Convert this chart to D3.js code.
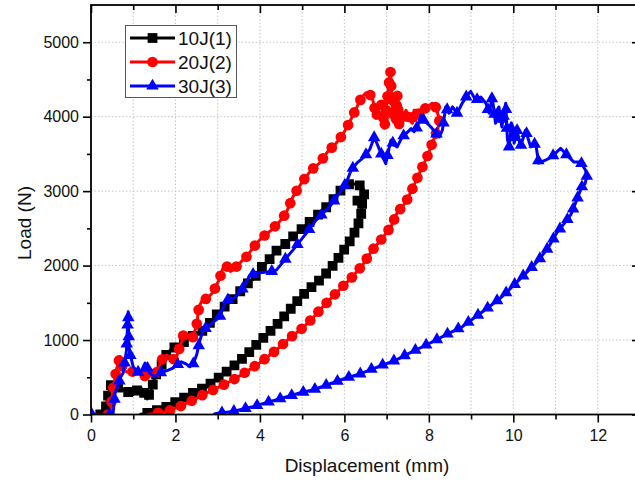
<!DOCTYPE html>
<html>
<head>
<meta charset="utf-8">
<script src="https://cdnjs.cloudflare.com/ajax/libs/d3/7.8.5/d3.min.js"></script>
<style>
    body { margin: 0; background: #fff; }
    svg { display: block; font-family: Arial, "Liberation Sans", sans-serif; }
</style>
</head>
<body>
<svg id="chart" width="635" height="482"></svg>
<script>
    'use strict';

    var xTicks = [0, 2, 4, 6, 8, 10, 12];
    var xMinorTicks = [1, 3, 5, 7, 9, 11];
    var yTicks = [0, 1000, 2000, 3000, 4000, 5000];
    var yMinorTicks = [500, 1500, 2500, 3500, 4500];
    var seriesNames = ['10J(1)', '20J(2)', '30J(3)'];

    // displacement (mm), load (N) - loading branch then unloading branch
    var load10Up = [[0.22,0],[0.33,30],[0.42,300],[0.49,430],[0.58,380],[0.71,340],[0.85,310],[1.0,270],[1.1,330],
        [1.18,360],[1.25,300],[1.33,210],[1.43,330],[1.52,520],[1.65,640],[1.78,800],[1.87,860],[2.0,910],[2.18,960],
        [2.3,1030],[2.46,1070],[2.6,1100],[2.73,1180],[2.85,1250],[3.0,1360],[3.15,1440],[3.28,1510],[3.45,1600],
        [3.6,1700],[3.75,1780],[3.87,1830],[4.0,1960],[4.15,2030],[4.39,2200],[4.6,2290],[4.78,2390],[5.01,2500],
        [5.2,2600],[5.41,2700],[5.6,2800],[5.72,2880],[5.85,2960],[5.96,3050],[6.08,3090],[6.2,3100],[6.32,3090],
        [6.43,3060],[6.47,2980],[6.46,2900],[6.3,2870],[6.42,2830]];
    var load10Down = [[6.42,2830],[6.4,2700],[6.33,2560],[6.22,2420],[6.1,2300],[5.88,2120],[5.65,1940],[5.41,1805],
        [5.12,1660],[4.94,1560],[4.7,1400],[4.39,1200],[3.99,980],[3.68,800],[3.36,640],[3.05,505],[2.73,375],
        [2.42,290],[2.1,195],[1.79,105],[1.5,45],[1.3,15],[1.15,0]];

    var load20Up = [[0.4,0],[0.45,20],[0.52,330],[0.6,600],[0.69,780],[0.76,600],[0.85,570],[0.95,580],[1.05,570],
        [1.16,575],[1.31,500],[1.42,520],[1.55,557],[1.67,731],[1.79,798],[1.9,760],[2.0,731],[2.1,900],[2.2,1093],
        [2.3,1060],[2.4,1020],[2.5,1200],[2.56,1450],[2.62,1520],[2.77,1570],[2.9,1650],[3.05,1832],[3.12,1960],
        [3.2,2006],[3.3,1920],[3.36,1939],[3.48,2006],[3.6,2080],[3.68,2118],[3.83,2234],[3.99,2342],[4.1,2400],
        [4.27,2476],[4.45,2580],[4.62,2704],[4.78,2923],[4.98,3107],[5.21,3281],[5.41,3375],[5.6,3527],[5.8,3640],
        [5.95,3751],[6.1,3900],[6.24,4064],[6.4,4250],[6.51,4320],[6.6,4300],[6.66,4260],[6.72,4100],[6.75,3980],
        [6.83,4180],[6.9,4150],[6.95,3845],[7.02,4265],[7.09,4623],[7.14,4046],[7.18,4020],[7.22,3912],[7.25,4310],
        [7.3,3862],[7.34,3950],[7.46,4086],[7.53,3960],[7.61,3912],[7.65,4086],[7.73,4086],[7.81,3996],[7.88,4100],
        [7.97,4131],[8.08,4180],[8.15,4150],[8.2,4064],[8.25,3952],[8.22,3850],[8.17,3773]];
    var load20Down = [[8.17,3773],[8.08,3643],[7.96,3460],[7.81,3281],[7.65,3080],[7.46,2856],[7.24,2700],[7.1,2520],
        [6.9,2368],[6.66,2207],[6.43,2006],[6.19,1849],[5.95,1715],[5.72,1581],[5.49,1447],[5.25,1295],[5.01,1161],
        [4.7,1026],[4.39,866],[3.99,691],[3.68,575],[3.36,463],[3.05,373],[2.73,288],[2.42,194],[2.1,105],[1.79,38],
        [1.5,15],[1.31,0]];

    var load30Up = [[0,20],[0.05,0],[0.52,0],[0.57,288],[0.7,500],[0.76,557],[0.84,865],[0.88,1380],[0.9,900],
        [0.92,825],[1.0,641],[1.08,580],[1.16,557],[1.22,620],[1.28,691],[1.34,620],[1.39,557],[1.51,507],[1.63,557],
        [1.8,590],[1.94,624],[2.14,708],[2.25,680],[2.34,641],[2.42,680],[2.5,798],[2.58,1000],[2.66,1134],[2.81,1201],
        [3.05,1313],[3.2,1537],[3.4,1563],[3.6,1697],[3.76,1872],[3.94,1899],[4.23,1916],[4.39,1939],[4.62,2100],
        [4.78,2208],[5.1,2436],[5.33,2610],[5.65,2789],[5.8,2905],[6.04,3107],[6.16,3281],[6.3,3380],[6.47,3460],
        [6.6,3560],[6.71,3728],[6.8,3600],[6.87,3504],[6.98,3370],[7.1,3684],[7.18,3620],[7.25,3594],[7.37,3728],
        [7.46,3773],[7.58,3840],[7.65,3800],[7.73,3862],[7.81,4019],[7.88,3950],[7.96,3912],[8.05,3862],[8.17,3773],
        [8.25,3728],[8.32,3818],[8.4,4131],[8.48,4046],[8.56,4131],[8.67,4046],[8.79,4180],[8.9,4280],[8.99,4340],
        [9.11,4220],[9.23,4265],[9.35,4180],[9.43,4046],[9.5,4265],[9.58,3912],[9.66,4131],[9.73,3862],[9.82,4180],
        [9.86,3700],[9.9,3594],[9.96,3912],[10.02,3643],[10.09,3818],[10.17,3594],[10.29,3818],[10.41,3594],
        [10.53,3643],[10.6,3375],[10.76,3415],[10.91,3460],[11.12,3576],[11.27,3482],[11.43,3393],[11.59,3393],
        [11.71,3281],[11.74,3200]];
    var load30Down = [[11.74,3200],[11.7,3100],[11.62,3057],[11.5,2878],[11.36,2680],[11.2,2560],[11.04,2450],
        [10.84,2252],[10.6,2073],[10.37,1939],[10.06,1764],[9.73,1581],[9.43,1447],[9.11,1313],[8.79,1178],[8.48,1093],
        [8.17,1000],[7.85,910],[7.54,825],[7.22,731],[6.9,664],[6.59,597],[6.35,540],[6.04,490],[5.6,400],[5.25,329],
        [4.94,288],[4.54,221],[4.15,160],[3.83,105],[3.36,40],[2.97,15],[2.9,0]];

    var plotLeft = 91, plotRight = 640, plotTop = 5, plotBottom = 414.5;

    var svg = d3.select('#chart');

    var x = d3.scaleLinear().domain([0, 13]).range([plotLeft, plotRight]);
    var y = d3.scaleLinear().domain([0, 5500]).range([plotBottom, plotTop]);

    var series = [
        { name: seriesNames[0], up: load10Up, down: load10Down, color: '#000000', symbol: d3.symbolSquare, size: 96, gapUp: 11, gapDown: 10 },
        { name: seriesNames[1], up: load20Up, down: load20Down, color: '#ff0000', symbol: d3.symbolCircle, size: 90, gapUp: 14, gapDown: 12 },
        { name: seriesNames[2], up: load30Up, down: load30Down, color: '#0000ff', symbol: d3.symbolTriangle, size: 68, gapUp: 19, gapDown: 12 }
    ];

    // grid
    var grid = svg.append('g')
        .attr('stroke', '#c4c4c4')
        .attr('stroke-width', 1)
        .attr('stroke-dasharray', '1.5,2');
    grid.selectAll('.vg')
        .data(d3.range(1, 13))
        .enter()
        .append('line')
        .attr('x1', function(d){ return x(d); })
        .attr('x2', function(d){ return x(d); })
        .attr('y1', plotTop)
        .attr('y2', plotBottom);
    grid.selectAll('.hg')
        .data(yTicks.slice(1))
        .enter()
        .append('line')
        .attr('x1', plotLeft)
        .attr('x2', plotRight)
        .attr('y1', function(d){ return y(d); })
        .attr('y2', function(d){ return y(d); });

    svg.append('clipPath').attr('id', 'clip')
        .append('rect')
        .attr('x', plotLeft).attr('y', plotTop)
        .attr('width', plotRight - plotLeft).attr('height', plotBottom - plotTop);

    var line = d3.line()
        .x(function(d){ return x(d[0]); })
        .y(function(d){ return y(d[1]); });

    var plot = svg.append('g').attr('clip-path', 'url(#clip)');

    function samplePath(pts, gap) {
        var tmp = plot.append('path').attr('d', line(pts)).attr('fill', 'none');
        var node = tmp.node();
        var len = node.getTotalLength();
        var out = [];
        for (var l = 0; l <= len; l += gap) {
            var p = node.getPointAtLength(l);
            out.push([p.x, p.y]);
        }
        tmp.remove();
        return out;
    }

    series.forEach(function(s) {
        var g = plot.append('g');
        g.append('path')
            .attr('d', line(s.up.concat(s.down.slice(1))))
            .attr('fill', 'none')
            .attr('stroke', s.color)
            .attr('stroke-width', 3)
            .attr('stroke-linejoin', 'round');

        var marks = samplePath(s.up, s.gapUp).concat(samplePath(s.down, s.gapDown));
        g.selectAll('.mk')
            .data(marks)
            .enter()
            .append('path')
            .attr('d', d3.symbol().type(s.symbol).size(s.size))
            .attr('transform', function(d){ return 'translate(' + d[0] + ',' + d[1] + ')'; })
            .attr('fill', s.color);
    });

    // axes
    function styleAxis(sel) {
        sel.select('.domain').remove();
        sel.selectAll('line').attr('stroke', '#000').attr('stroke-width', 1.6);
        sel.selectAll('text').attr('font-size', 16).attr('fill', '#111');
    }

    svg.append('g').attr('transform', 'translate(0,' + plotBottom + ')')
        .call(d3.axisBottom(x).tickValues(xTicks).tickSize(8).tickPadding(7).tickFormat(d3.format('d')))
        .call(styleAxis);
    svg.append('g').attr('transform', 'translate(0,' + plotBottom + ')')
        .call(d3.axisBottom(x).tickValues(xMinorTicks).tickSize(5).tickFormat(''))
        .call(styleAxis);
    svg.append('g').attr('transform', 'translate(0,' + plotTop + ')')
        .call(d3.axisBottom(x).tickValues(xTicks).tickSize(8).tickFormat(''))
        .call(styleAxis);
    svg.append('g').attr('transform', 'translate(0,' + plotTop + ')')
        .call(d3.axisBottom(x).tickValues(xMinorTicks).tickSize(5).tickFormat(''))
        .call(styleAxis);

    svg.append('g').attr('transform', 'translate(' + plotLeft + ',0)')
        .call(d3.axisLeft(y).tickValues(yTicks).tickSize(8).tickPadding(4).tickFormat(d3.format('d')))
        .call(styleAxis);
    svg.append('g').attr('transform', 'translate(' + plotLeft + ',0)')
        .call(d3.axisLeft(y).tickValues(yMinorTicks).tickSize(4).tickFormat(''))
        .call(styleAxis);
    svg.append('g').attr('transform', 'translate(' + plotRight + ',0)')
        .call(d3.axisRight(y).tickValues(yTicks).tickSize(-8).tickFormat(''))
        .call(styleAxis);
    svg.append('g').attr('transform', 'translate(' + plotRight + ',0)')
        .call(d3.axisRight(y).tickValues(yMinorTicks).tickSize(-4).tickFormat(''))
        .call(styleAxis);

    svg.append('rect')
        .attr('x', plotLeft).attr('y', plotTop)
        .attr('width', plotRight - plotLeft).attr('height', plotBottom - plotTop)
        .attr('fill', 'none')
        .attr('stroke', '#000')
        .attr('stroke-width', 1.8);

    // axis titles
    svg.append('text')
        .attr('x', 367).attr('y', 472)
        .attr('text-anchor', 'middle')
        .attr('font-size', 19)
        .attr('fill', '#111')
        .text('Displacement (mm)');
    svg.append('text')
        .attr('transform', 'translate(31,223) rotate(-90)')
        .attr('text-anchor', 'middle')
        .attr('font-size', 19)
        .attr('fill', '#111')
        .text('Load (N)');

    // legend
    var legend = svg.append('g');
    legend.append('rect')
        .attr('x', 125.5).attr('y', 25.5)
        .attr('width', 111).attr('height', 72)
        .attr('fill', '#fff')
        .attr('stroke', '#555')
        .attr('stroke-width', 1);
    var item = legend.selectAll('.item')
        .data(series)
        .enter()
        .append('g')
        .attr('transform', function(d, i){ return 'translate(0,' + (38 + i * 24) + ')'; });
    item.append('line')
        .attr('x1', 130).attr('x2', 175)
        .attr('stroke', function(d){ return d.color; })
        .attr('stroke-width', 3);
    item.append('path')
        .attr('transform', 'translate(152.5,0)')
        .attr('d', function(d){ return d3.symbol().type(d.symbol).size(d.size)(); })
        .attr('fill', function(d){ return d.color; });
    item.append('text')
        .attr('x', 178).attr('y', 7)
        .attr('font-size', 19)
        .attr('fill', '#111')
        .text(function(d){ return d.name; });
</script>
</body>
</html>
